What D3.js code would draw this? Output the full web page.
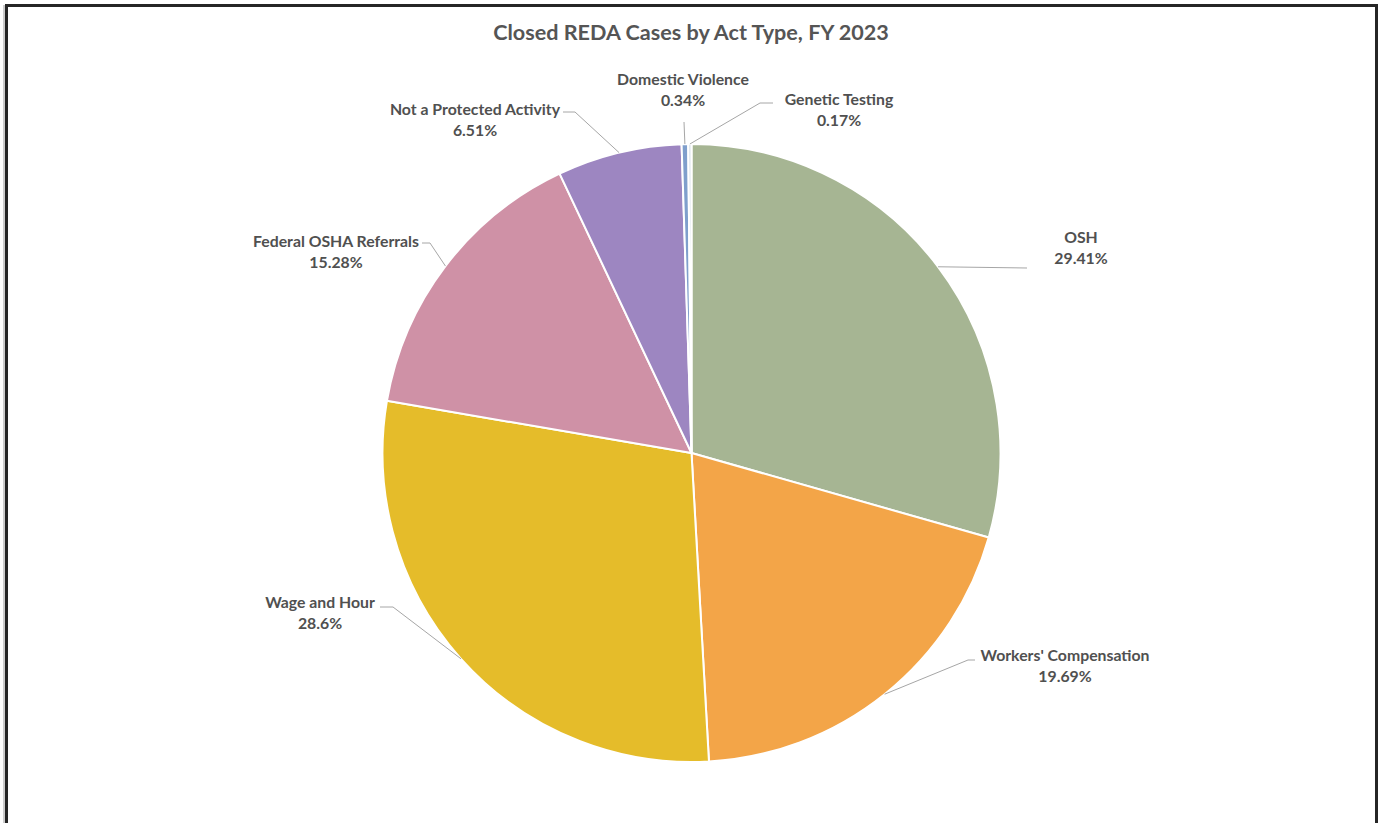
<!DOCTYPE html>
<html>
<head>
<meta charset="utf-8">
<script src="https://cdn.jsdelivr.net/npm/d3@7"></script>
<style>
  html, body { margin: 0; padding: 0; background: #fff; }
  svg { display: block; }
</style>
</head>
<body>
<svg id="chart" width="1383" height="823"></svg>
<script>
const title = "Closed REDA Cases by Act Type, FY 2023";
const categories = ["OSH", "Workers' Compensation", "Wage and Hour", "Federal OSHA Referrals", "Not a Protected Activity", "Domestic Violence", "Genetic Testing"];
const values = [29.41, 19.69, 28.6, 15.28, 6.51, 0.34, 0.17];
const valueLabels = ["29.41%", "19.69%", "28.6%", "15.28%", "6.51%", "0.34%", "0.17%"];
const colors = ["#a6b593", "#f3a548", "#e5bc2a", "#cf91a6", "#9d86c1", "#7f9fcc", "#d9e1ea"];

// label layout: text centre x, first baseline y, leader elbow and end points
const labelLayout = [
  { tx: 1081, ty: 243, pts: [[1027, 268]] },
  { tx: 1065, ty: 661, pts: [[968, 660], [975, 660]] },
  { tx: 320, ty: 608, pts: [[393, 607], [380, 607]] },
  { tx: 336, ty: 247, pts: [[430, 243], [422, 243]] },
  { tx: 475, ty: 115, pts: [[575, 112], [563, 112]] },
  { tx: 683, ty: 85, pts: [[684, 122]] },
  { tx: 839, ty: 105, pts: [[760, 103], [773, 103]] }
];

const svg = d3.select("#chart");
const W = 1383, H = 823;
const cx = 691.5, cy = 453, R = 309;

// chart border
svg.append("line").attr("x1", 4).attr("x2", 4).attr("y1", 5).attr("y2", H + 5)
  .attr("stroke", "#9a9a9a").attr("stroke-width", 1);
svg.append("rect").attr("x", 6.5).attr("y", 5.5).attr("width", 1370).attr("height", H + 20)
  .attr("fill", "none").attr("stroke", "#262626").attr("stroke-width", 3);

svg.append("text").attr("x", 691).attr("y", 40).attr("text-anchor", "middle")
  .attr("font-family", "Lato, 'Open Sans', sans-serif").attr("font-weight", "bold")
  .attr("font-size", 21.6).attr("fill", "#555555").text(title);

const data = categories.map((c, i) => ({ name: c, value: values[i], label: valueLabels[i], color: colors[i], layout: labelLayout[i] }));

const pie = d3.pie().value(d => d.value).sort(null);
const arcs = pie(data);
const arc = d3.arc().innerRadius(0).outerRadius(R);

const g = svg.append("g").attr("transform", `translate(${cx},${cy})`);
g.selectAll("path").data(arcs).join("path")
  .attr("d", arc).attr("fill", d => d.data.color)
  .attr("stroke", "#fff").attr("stroke-width", 2).attr("stroke-linejoin", "round");

// leader lines
arcs.forEach(a => {
  const mid = (a.startAngle + a.endAngle) / 2;
  const p0 = [cx + R * Math.sin(mid), cy - R * Math.cos(mid)];
  const pts = [p0].concat(a.data.layout.pts);
  svg.append("path").attr("d", d3.line()(pts))
    .attr("fill", "none").attr("stroke", "#a6a6a6").attr("stroke-width", 1);
});

// labels
const lab = svg.append("g").attr("font-family", "Lato, 'Open Sans', sans-serif")
  .attr("font-weight", "bold").attr("font-size", 15.8).attr("fill", "#505050").attr("text-anchor", "middle");
data.forEach(d => {
  const t = lab.append("text").attr("x", d.layout.tx).attr("y", d.layout.ty);
  t.append("tspan").attr("x", d.layout.tx).attr("dy", 0).text(d.name);
  t.append("tspan").attr("x", d.layout.tx).attr("dy", 21).text(d.label);
});
</script>
</body>
</html>
